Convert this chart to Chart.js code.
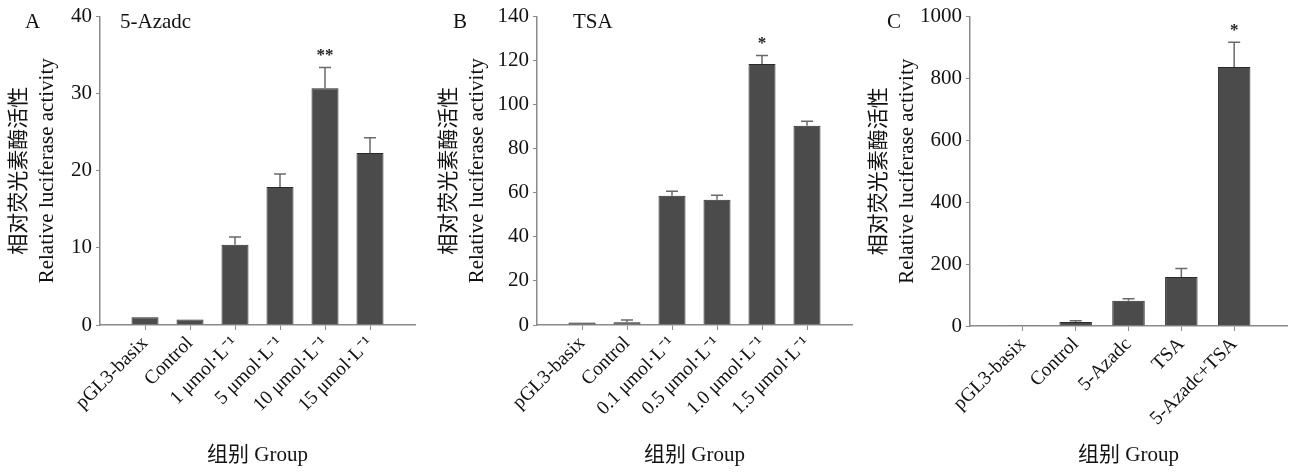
<!DOCTYPE html>
<html><head><meta charset="utf-8">
<script src="https://cdn.jsdelivr.net/npm/chart.js@4.4.1/dist/chart.umd.min.js"></script>
<style>
body{margin:0;background:#fff;width:1291px;height:472px;overflow:hidden;position:relative;font-family:'Liberation Serif','Noto Sans CJK SC',serif;}
.panel{position:absolute;top:0;height:472px;}
.lbl{position:absolute;font-size:21px;line-height:21px;color:#111;white-space:nowrap;}
</style></head><body>
<div class="panel" style="left:0;width:430px"><canvas id="cA" width="430" height="472"></canvas></div>
<div class="panel" style="left:430px;width:430px"><canvas id="cB" width="430" height="472"></canvas></div>
<div class="panel" style="left:860px;width:431px"><canvas id="cC" width="431" height="472"></canvas></div>
<div class="lbl" style="left:25px;top:11px">A</div>
<div class="lbl" style="left:120px;top:11px">5-Azadc</div>
<div class="lbl" style="left:453px;top:11px">B</div>
<div class="lbl" style="left:573px;top:11px">TSA</div>
<div class="lbl" style="left:887px;top:11px">C</div>
<script>
// ---- data ----
const categoriesA = ['pGL3-basix','Control','1 μmol·L⁻¹','5 μmol·L⁻¹','10 μmol·L⁻¹','15 μmol·L⁻¹'];
const valuesA = [1.0, 0.7, 10.4, 17.9, 30.7, 22.3];
const errorsA = [0, 0, 1.0, 1.7, 2.7, 2.0];
const starsA = ['', '', '', '', '**', ''];
const yTicksA = [0, 10, 20, 30, 40];

const categoriesB = ['pGL3-basix','Control','0.1 μmol·L⁻¹','0.5 μmol·L⁻¹','1.0 μmol·L⁻¹','1.5 μmol·L⁻¹'];
const valuesB = [1.1, 1.2, 58.7, 56.9, 118.5, 90.5];
const errorsB = [0, 1.1, 2.0, 2.0, 3.8, 2.0];
const starsB = ['', '', '', '', '*', ''];
const yTicksB = [0, 20, 40, 60, 80, 100, 120, 140];

const categoriesC = ['pGL3-basix','Control','5-Azadc','TSA','5-Azadc+TSA'];
const valuesC = [1, 13, 82, 158, 837];
const errorsC = [0, 4, 6, 28, 80];
const starsC = ['', '', '', '', '*'];
const yTicksC = [0, 200, 400, 600, 800, 1000];

const yTitle = ['相对荧光素酶活性', 'Relative luciferase activity'];
const xTitle = '组别 Group';

// ---- drawing ----
const FONT = "'Liberation Serif', 'Noto Sans CJK SC', serif";
const AXIS = '#8a8a8a';

const errPlugin = {
  id: 'errbars',
  afterDatasetsDraw(chart) {
    const ctx = chart.ctx, y = chart.scales.y;
    const meta = chart.getDatasetMeta(0);
    const ds = chart.data.datasets[0];
    ctx.save();
    meta.data.forEach((el, i) => {
      const v = ds.data[i].y, e = ds.errors[i];
      const yTop = y.getPixelForValue(v + e);
      if (e > 0) {
        ctx.strokeStyle = '#6a6a6a';
        ctx.lineWidth = 1.5;
        ctx.beginPath();
        ctx.moveTo(el.x, el.y);
        ctx.lineTo(el.x, yTop);
        ctx.moveTo(el.x - 6, yTop);
        ctx.lineTo(el.x + 6, yTop);
        ctx.stroke();
      }
      if (ds.stars[i]) {
        ctx.fillStyle = '#222';
        ctx.font = 'bold 17px ' + FONT;
        ctx.textAlign = 'center';
        ctx.textBaseline = 'middle';
        ctx.fillText(ds.stars[i], el.x, yTop - 12);
      }
    });
    ctx.restore();
  }
};

function makeChart(id, cats, vals, errs, stars, yTicks, g) {
  const n = cats.length;
  const yMax = yTicks[yTicks.length - 1];
  new Chart(document.getElementById(id), {
    type: 'bar',
    data: {
      datasets: [{
        data: vals.map((v, i) => ({ x: i + 1, y: v })),
        errors: errs,
        stars: stars,
        backgroundColor: '#4b4b4b',
        borderColor: '#2a2a2a',
        borderWidth: 1,
        barPercentage: g.bar,
        categoryPercentage: 1
      }]
    },
    options: {
      responsive: false,
      animation: false,
      layout: { padding: { left: 0, top: g.top, right: g.W - g.right, bottom: 0 } },
      plugins: { legend: { display: false }, tooltip: { enabled: false } },
      scales: {
        x: {
          type: 'linear', min: 0, max: n + 1, offset: false,
          grid: { offset: false, drawOnChartArea: false, color: AXIS, tickLength: 5 },
          border: { color: AXIS, width: 1.5 },
          afterBuildTicks: s => { s.ticks = cats.map((c, i) => ({ value: i + 1 })); },
          afterFit: s => { s.height = 472 - g.bottom; },
          ticks: {
            autoSkip: false, maxRotation: 45, minRotation: 45, padding: 2,
            color: '#111', font: { family: FONT, size: 19.5 },
            callback: v => cats[v - 1] ?? ''
          },
          title: { display: true, text: xTitle, color: '#111',
                   font: { family: FONT, size: 21 }, padding: { top: 0, bottom: 4 } }
        },
        y: {
          min: 0, max: yMax,
          grid: { drawOnChartArea: false, color: AXIS, tickLength: 4 },
          border: { color: AXIS, width: 1.5 },
          afterFit: s => { s.width = g.left; },
          afterBuildTicks: s => { s.ticks = yTicks.map(v => ({ value: v })); },
          ticks: { padding: 4, color: '#111', font: { family: FONT, size: 21 },
                   callback: v => String(v) },
          title: { display: true, text: yTitle, color: '#111',
                   font: { family: FONT, size: 21, lineHeight: 1.35 }, padding: { top: 5, bottom: 0 } }
        }
      }
    },
    plugins: [errPlugin]
  });
}

makeChart('cA', categoriesA, valuesA, errorsA, starsA, yTicksA, { W: 430, left: 100, top: 14, right: 415, bottom: 325, bar: 0.6 });
makeChart('cB', categoriesB, valuesB, errorsB, starsB, yTicksB, { W: 430, left: 107, top: 15, right: 422, bottom: 325, bar: 0.6 });
makeChart('cC', categoriesC, valuesC, errorsC, starsC, yTicksC, { W: 431, left: 110, top: 15, right: 427, bottom: 326, bar: 0.615 });
</script>
</body></html>
